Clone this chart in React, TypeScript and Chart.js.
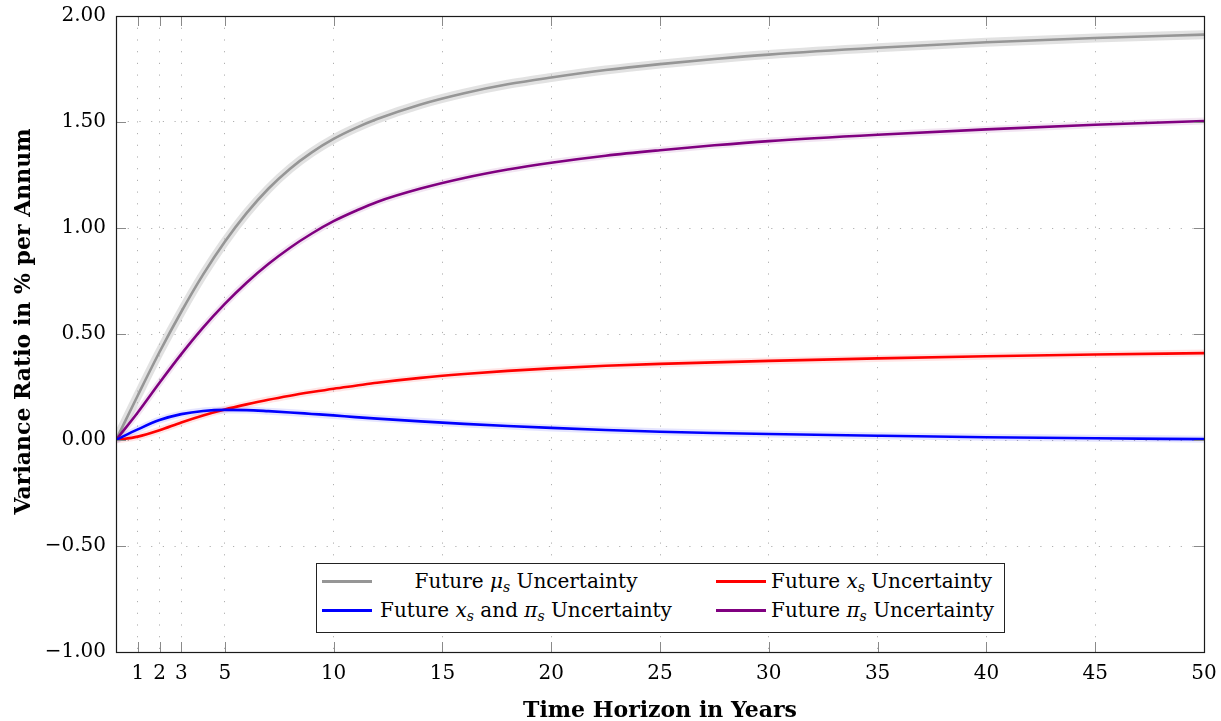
import React, { useEffect, useRef } from "react";
import { Chart, registerables } from "chart.js";

Chart.register(...registerables);

// Time horizon (years)
const years = [0, 1, 2, 3, 4, 5, 6, 7, 8, 9, 10, 11, 12, 14, 16, 18, 20, 22.5, 25, 27.5, 30, 35, 40, 45, 50];
// Future mu_s uncertainty (gray)
const muUncertainty = [0, 0.21, 0.415, 0.605, 0.78, 0.935, 1.07, 1.185, 1.28, 1.357, 1.42, 1.471, 1.514, 1.583, 1.636, 1.678, 1.71, 1.745, 1.773, 1.797, 1.818, 1.85, 1.876, 1.896, 1.912];
// Future pi_s uncertainty (purple)
const piUncertainty = [0, 0.13, 0.27, 0.405, 0.53, 0.642, 0.742, 0.83, 0.907, 0.974, 1.032, 1.08, 1.123, 1.186, 1.236, 1.276, 1.308, 1.341, 1.367, 1.39, 1.41, 1.44, 1.465, 1.487, 1.505];
// Future x_s uncertainty (red)
const xsUncertainty = [0, 0.016, 0.046, 0.083, 0.116, 0.144, 0.168, 0.19, 0.209, 0.226, 0.242, 0.256, 0.27, 0.293, 0.311, 0.326, 0.338, 0.35, 0.359, 0.366, 0.373, 0.385, 0.395, 0.403, 0.41];
// Future x_s and pi_s uncertainty (blue)
const xsPiUncertainty = [0, 0.05, 0.094, 0.122, 0.137, 0.142, 0.141, 0.136, 0.13, 0.123, 0.116, 0.108, 0.101, 0.088, 0.076, 0.066, 0.057, 0.047, 0.039, 0.033, 0.028, 0.02, 0.013, 0.008, 0.004];

const xTickValues = [1, 2, 3, 5, 10, 15, 20, 25, 30, 35, 40, 45, 50];
const yMin = -1;
const yMax = 2;
const yStep = 0.5;

const xTitle = "Time Horizon in Years";
const yTitle = "Variance Ratio in % per Annum";

const pts = (vals: number[]) => years.map((x, i) => ({ x, y: vals[i] }));

const frameAndTitles = {
  id: "frameAndTitles",
  afterDraw(chart: any) {
    const { ctx, chartArea, scales } = chart;
    const { left, right, top, bottom } = chartArea;
    const xs = scales.x;
    const ys = scales.y;
    ctx.save();
    // inward tick marks
    ctx.strokeStyle = "#8a8a8a";
    ctx.lineWidth = 1;
    const tl = 10;
    ctx.beginPath();
    for (const v of xTickValues) {
      const px = Math.round(xs.getPixelForValue(v)) + 0.5;
      ctx.moveTo(px, bottom);
      ctx.lineTo(px, bottom - tl);
      ctx.moveTo(px, top);
      ctx.lineTo(px, top + tl);
    }
    for (let v = yMin; v <= yMax + 1e-9; v += yStep) {
      const py = Math.round(ys.getPixelForValue(v)) + 0.5;
      ctx.moveTo(left, py);
      ctx.lineTo(left + tl, py);
      ctx.moveTo(right, py);
      ctx.lineTo(right - tl, py);
    }
    ctx.stroke();
    // frame
    ctx.strokeStyle = "#1a1a1a";
    ctx.lineWidth = 1.2;
    ctx.strokeRect(Math.round(left) + 0.5, Math.round(top) + 0.5, Math.round(right - left), Math.round(bottom - top));
    // axis titles
    ctx.fillStyle = "#000";
    ctx.font = 'bold 22px "DejaVu Serif"';
    ctx.textAlign = "center";
    ctx.textBaseline = "alphabetic";
    ctx.fillText(xTitle, (left + right) / 2, 717);
    ctx.translate(29.5, 321.5);
    ctx.rotate(-Math.PI / 2);
    ctx.fillText(yTitle, 0, 0);
    ctx.restore();
  },
};

const series = [
  { data: muUncertainty, color: "rgb(150,150,150)", band: "rgba(190,190,190,0.45)", bandW: 9 },
  { data: piUncertainty, color: "rgb(128,0,128)", band: "rgba(128,0,128,0.10)", bandW: 7 },
  { data: xsUncertainty, color: "rgb(255,0,0)", band: "rgba(255,0,0,0.10)", bandW: 7 },
  { data: xsPiUncertainty, color: "rgb(0,0,255)", band: "rgba(0,0,255,0.10)", bandW: 7 },
];

const zeroPad = (s: any) => {
  s.paddingTop = 0;
  s.paddingBottom = 0;
  s.paddingLeft = 0;
  s.paddingRight = 0;
};

export default function App() {
  const ref = useRef<HTMLCanvasElement>(null);

  useEffect(() => {
    if (!ref.current) return;
    const datasets: any[] = [];
    series.forEach((s, i) => {
      datasets.push({
        data: pts(s.data),
        borderColor: s.band,
        borderWidth: s.bandW,
        pointRadius: 0,
        cubicInterpolationMode: "monotone",
        order: 20 + i,
      });
      datasets.push({
        data: pts(s.data),
        borderColor: s.color,
        borderWidth: 2.6,
        pointRadius: 0,
        cubicInterpolationMode: "monotone",
        order: 10 - i,
      });
    });
    const chart = new Chart(ref.current, {
      type: "line",
      data: { datasets },
      plugins: [frameAndTitles],
      options: {
        animation: false,
        responsive: true,
        maintainAspectRatio: false,
        layout: { padding: { top: 16, right: 17, left: 0, bottom: 0 } },
        plugins: { legend: { display: false }, tooltip: { enabled: false } },
        scales: {
          x: {
            type: "linear",
            min: 0,
            max: 50,
            afterFit: (s: any) => {
              s.height = 69;
              zeroPad(s);
            },
            afterBuildTicks: (s: any) => {
              s.ticks = xTickValues.map((v) => ({ value: v }));
            },
            ticks: {
              autoSkip: false,
              maxRotation: 0,
              padding: 10,
              color: "#000",
              font: { family: "DejaVu Serif", size: 20 },
              callback: (v: any) => String(v),
            },
            grid: { color: "rgba(150,150,150,0.75)", lineWidth: 1, drawTicks: false },
            border: { display: false, dash: [1.2, 10.5] },
          },
          y: {
            min: yMin,
            max: yMax,
            afterFit: (s: any) => {
              s.width = 116;
              zeroPad(s);
            },
            ticks: {
              stepSize: yStep,
              padding: 10,
              color: "#000",
              font: { family: "DejaVu Serif", size: 20 },
              callback: (v: any) => (Number(v) < 0 ? "\u2212" : "") + Math.abs(Number(v)).toFixed(2),
            },
            grid: { color: "rgba(150,150,150,0.75)", lineWidth: 1, drawTicks: false },
            border: { display: false, dash: [1.2, 10.5] },
          },
        },
      } as any,
    });
    return () => chart.destroy();
  }, []);

  const font = '"DejaVu Serif", serif';
  const lineStyle = (color: string, left: number, top: number) => ({
    position: "absolute" as const,
    left,
    top,
    width: 50,
    height: 3,
    background: color,
  });
  const textStyle = (left: number, top: number, width: number, align: "center" | "left") => ({
    position: "absolute" as const,
    left,
    top,
    width,
    textAlign: align,
    fontFamily: font,
    fontSize: 20,
    lineHeight: "24px",
    whiteSpace: "nowrap" as const,
    color: "#000",
  });
  const sub = { fontSize: 14, fontStyle: "italic" as const, verticalAlign: "-4px" };

  return (
    <div style={{ position: "fixed", left: 0, top: 0, width: 1221, height: 721, background: "#fff" }}>
      <canvas ref={ref} />
      <div
        style={{
          position: "absolute",
          left: 316,
          top: 563,
          width: 687,
          height: 68,
          border: "1px solid #222",
          background: "#fff",
        }}
      >
        <div style={lineStyle("rgb(150,150,150)", 5, 16)} />
        <div style={textStyle(60, 5, 298, "center")}>
          Future <i>μ</i><span style={sub}>s</span> Uncertainty
        </div>
        <div style={lineStyle("rgb(0,0,255)", 5, 45)} />
        <div style={textStyle(60, 34, 298, "center")}>
          Future <i>x</i><span style={sub}>s</span> and <i>π</i><span style={sub}>s</span> Uncertainty
        </div>
        <div style={lineStyle("rgb(255,0,0)", 399, 16)} />
        <div style={textStyle(454, 5, 230, "left")}>
          Future <i>x</i><span style={sub}>s</span> Uncertainty
        </div>
        <div style={lineStyle("rgb(128,0,128)", 399, 45)} />
        <div style={textStyle(454, 34, 230, "left")}>
          Future <i>π</i><span style={sub}>s</span> Uncertainty
        </div>
      </div>
    </div>
  );
}
